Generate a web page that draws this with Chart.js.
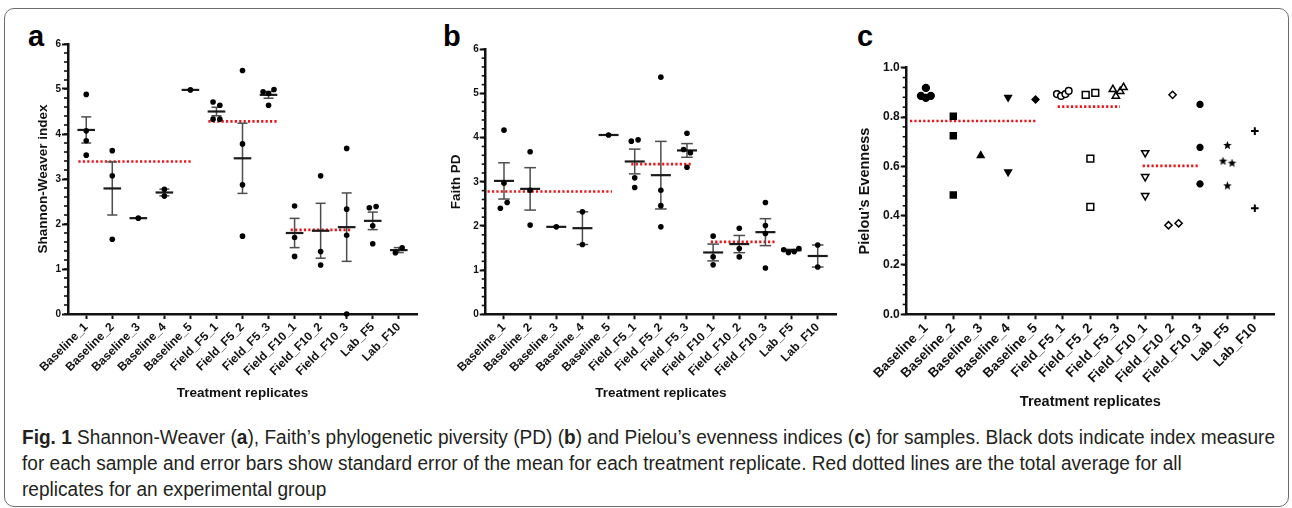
<!DOCTYPE html>
<html>
<head>
<meta charset="utf-8">
<script src="https://cdn.jsdelivr.net/npm/chart.js@4.4.1/dist/chart.umd.min.js"></script>
<style>
  body { margin: 0; background: #fff; width: 1292px; height: 508px; overflow: hidden; position: relative; font-family: "Liberation Sans", Arial, sans-serif; }
  .frame { position: absolute; left: 4px; top: 8px; width: 1283px; height: 497px; border: 1.5px solid #6d6d6d; border-radius: 10px; }
  canvas { position: absolute; }
  .lbl { position: absolute; font-weight: bold; font-size: 29px; line-height: 1; color: #000; }
  .cap { position: absolute; left: 22px; top: 424px; font-family: "Liberation Sans", Arial, sans-serif; font-size: 20px; line-height: 26px; color: #231f20; white-space: nowrap; transform-origin: 0 0; }
  .cap span { display: block; }
</style>
</head>
<body>
<div class="frame"></div>
<div class="lbl" style="left:28px;top:22px">a</div>
<div class="lbl" style="left:443px;top:22px">b</div>
<div class="lbl" style="left:857px;top:22px">c</div>
<canvas id="chartA" width="410" height="380" style="left:20px;top:30px"></canvas>
<canvas id="chartB" width="410" height="380" style="left:440px;top:30px"></canvas>
<canvas id="chartC" width="440" height="390" style="left:850px;top:30px"></canvas>
<div class="cap" id="cap">
  <span id="l1"><b>Fig. 1</b> Shannon-Weaver (<b>a</b>), Faith’s phylogenetic piversity (PD) (<b>b</b>) and Pielou’s evenness indices (<b>c</b>) for samples. Black dots indicate index measure</span>
  <span>for each sample and error bars show standard error of the mean for each treatment replicate. Red dotted lines are the total average for all</span>
  <span>replicates for an experimental group</span>
</div>
<script>
// treatment replicates
const groups = ['Baseline_1', 'Baseline_2', 'Baseline_3', 'Baseline_4', 'Baseline_5',
  'Field_F5_1', 'Field_F5_2', 'Field_F5_3', 'Field_F10_1', 'Field_F10_2', 'Field_F10_3',
  'Lab_F5', 'Lab_F10'];

// a - Shannon-Weaver index, one list per replicate
const shannonValues = [
  [4.88, 4.07, 3.85, 3.53],
  [3.63, 3.07, 1.66],
  [2.13],
  [2.77, 2.62],
  [4.98],
  [4.71, 4.64, 4.33, 4.33],
  [5.41, 3.78, 2.87, 1.73],
  [4.94, 4.90, 4.99, 4.64],
  [2.40, 1.70, 1.28],
  [3.07, 1.39, 1.09],
  [3.68, 2.33, 1.75, 0.00],
  [2.36, 2.39, 1.96, 1.56],
  [1.36, 1.47]
];
const shannonMean = [4.09, 2.79, 2.13, 2.70, 4.98, 4.50, 3.46, 4.87, 1.80, 1.85, 1.93, 2.07, 1.42];
const shannonSem = [0.29, 0.59, 0, 0.075, 0, 0.095, 0.78, 0.075, 0.325, 0.61, 0.76, 0.195, 0.055];
const shannonGroupAvg = [3.39, 4.28, 1.87];

// b - Faith PD
const faithValues = [
  [4.17, 2.97, 2.53, 2.40],
  [3.68, 2.81, 2.02],
  [1.98],
  [2.32, 1.58],
  [4.06],
  [3.92, 3.95, 3.09, 2.87],
  [5.37, 2.81, 2.46, 1.98],
  [4.10, 3.73, 3.66, 3.33],
  [1.77, 1.30, 1.12],
  [1.95, 1.49, 1.30],
  [2.53, 2.01, 1.83, 1.05],
  [1.46, 1.40, 1.42, 1.49],
  [1.57, 1.07]
];
const faithMean = [3.02, 2.84, 1.98, 1.95, 4.06, 3.46, 3.15, 3.71, 1.40, 1.59, 1.86, 1.45, 1.32];
const faithSem = [0.41, 0.48, 0, 0.37, 0, 0.28, 0.765, 0.155, 0.19, 0.195, 0.305, 0.02, 0.25];
const faithGroupAvg = [2.78, 3.40, 1.64];

// c - Pielou's evenness
const pielouValues = [
  [0.918, 0.886, 0.886, 0.878],
  [0.803, 0.724, 0.484],
  [0.644],
  [0.880, 0.577],
  [0.871],
  [0.893, 0.885, 0.893, 0.906],
  [0.890, 0.898, 0.631, 0.436],
  [0.912, 0.885, 0.904, 0.920],
  [0.655, 0.558, 0.481],
  [0.890, 0.361, 0.369],
  [0.851, 0.677, 0.529],
  [0.685, 0.621, 0.613, 0.521],
  [0.743, 0.430]
];
const pielouGroupAvg = [0.784, 0.842, 0.602];

// horizontal spread of overlapping dots (category units)
const spreadA = [[0,0,0,0],[0,0,0],[0],[0,0],[0],[-0.13,0.13,-0.13,0.13],[0,0,0,0],[-0.21,0,0.21,0],[0,0,0],[0,0,0],[0,0,0,0],[-0.13,0.13,0,0],[-0.13,0.13]];
const spreadB = [[0,0,0.12,-0.14],[0,0,0],[0],[0,0],[0],[-0.13,0.13,0,0],[0,0,0,0],[0,-0.13,0.13,0],[0,0,0],[0,0,0],[0,0,0,0],[-0.3,-0.12,0.1,0.28],[0,0]];
const spreadC = [[0,-0.18,0.18,0],[0,0,0],[0],[0,0],[0],[-0.22,-0.07,0.09,0.21],[-0.17,0.18,0,0],[-0.18,-0.07,0.09,0.21],[0,0,0],[0,-0.15,0.22],[0,0,0],[0,-0.16,0.17,0],[0,0]];
// extent of the red group-average lines
const spanA = [[-0.30, 4.05], [4.69, 7.32], [7.85, 10.17]];
const spanB = [[-0.63, 4.13], [4.87, 7.20], [7.91, 10.43]];
const spanC = [[-0.58, 4.04], [4.81, 7.08], [7.91, 10.00]];

Chart.defaults.font.family = '"Liberation Sans", Arial, sans-serif';
Chart.defaults.font.weight = 'bold';
Chart.defaults.color = '#111';

const minorTicks = {
  id: 'minorTicks',
  afterDraw(chart, args, o) {
    const y = chart.scales.y, ctx = chart.ctx;
    const n = Math.round((y.max - y.min) / o.step);
    ctx.save();
    ctx.strokeStyle = '#111';
    ctx.lineWidth = 1.6;
    for (let k = 0; k <= n; k++) {
      const p = y.getPixelForValue(y.min + k * o.step);
      ctx.beginPath();
      ctx.moveTo(y.right - o.len, p);
      ctx.lineTo(y.right, p);
      ctx.stroke();
    }
    ctx.restore();
  }
};

function dots(values, spread) {
  const out = [];
  values.forEach((vals, i) => vals.forEach((v, k) => out.push({ x: i + spread[i][k], y: v })));
  return out;
}

function redLines(avg, span) {
  const out = [];
  avg.forEach((m, g) => out.push({ x: span[g][0], y: m }, { x: span[g][1], y: m }, { x: span[g][1], y: null }));
  return out;
}

function errorSets(mean, sem, capR, meanR) {
  const stems = [], caps = [], means = [];
  mean.forEach((m, i) => {
    means.push({ x: i, y: m });
    if (sem[i] > 0) {
      stems.push({ x: i, y: m - sem[i] }, { x: i, y: m + sem[i] }, { x: i, y: null });
      caps.push({ x: i, y: m - sem[i] }, { x: i, y: m + sem[i] });
    }
  });
  return [
    { data: stems, showLine: true, borderColor: '#4d4d4d', borderWidth: 1.5, pointRadius: 0, order: 4, clip: false },
    { data: caps, pointStyle: 'line', pointRadius: capR, pointBorderColor: '#4d4d4d', pointBorderWidth: 1.5, order: 3, clip: false },
    { data: means, pointStyle: 'line', pointRadius: meanR, pointBorderColor: '#1a1a1a', pointBorderWidth: 2.2, order: 2, clip: false }
  ];
}

function makeChart(id, p) {
  new Chart(document.getElementById(id), {
    type: 'scatter',
    data: {
      datasets: [
        { data: redLines(p.avg, p.span), showLine: true, borderColor: '#e8161b', borderWidth: 2.6,
          borderDash: [2.2, 2.2], pointRadius: 0, order: 5, clip: false },
        ...p.sets
      ]
    },
    options: {
      responsive: false,
      devicePixelRatio: 1,
      animation: false,
      events: [],
      layout: { padding: p.pad },
      plugins: { legend: { display: false }, tooltip: { enabled: false }, minorTicks: p.minor },
      scales: {
        x: {
          type: 'linear', position: 'bottom', min: -0.7, max: 12.7,
          afterBuildTicks: s => { s.ticks = groups.map((g, i) => ({ value: i })); },
          afterFit: s => { s.height = p.xh; },
          ticks: { callback: v => groups[v], minRotation: 45, maxRotation: 45, autoSkip: false,
                   padding: 1, color: '#111', font: { size: p.xfs, weight: 'bold' } },
          grid: { drawOnChartArea: false, drawTicks: true, tickLength: 5, tickWidth: 2, tickColor: '#111' },
          border: { display: true, color: '#111', width: 2.5 },
          title: { display: true, text: 'Treatment replicates', color: '#111',
                   font: { size: p.tfs, weight: 'bold' }, padding: { top: 0, bottom: p.xtp } }
        },
        y: {
          type: 'linear', min: 0, max: p.ymax,
          afterFit: s => { s.width = p.yw; },
          ticks: { stepSize: p.ystep, callback: p.yfmt, padding: 1, color: '#111',
                   font: { size: p.yfs, weight: 'bold' } },
          grid: { drawOnChartArea: false, drawTicks: true, tickLength: 6, tickWidth: 2, tickColor: '#111' },
          border: { display: true, color: '#111', width: 2.5 },
          title: { display: true, text: p.ytitle, color: '#111',
                   font: { size: p.tfs, weight: 'bold' }, padding: { top: p.ytp, bottom: 0 } }
        }
      }
    },
    plugins: [minorTicks]
  });
}

const dotStyle = { pointStyle: 'circle', pointRadius: 2.8, pointBackgroundColor: '#000', pointBorderWidth: 0, order: 0, clip: false };

makeChart('chartA', {
  avg: shannonGroupAvg, span: spanA,
  sets: [...errorSets(shannonMean, shannonSem, 5, 8.8), { data: dots(shannonValues, spreadA), ...dotStyle }],
  pad: { left: 0, top: 14, right: 13, bottom: 0 }, yw: 48, xh: 96,
  ymax: 6, ystep: 1, yfmt: v => v, minor: { step: 0.2, len: 4 },
  xfs: 12, yfs: 10, tfs: 13.5, xtp: 8.6, ytp: 14.9, ytitle: 'Shannon-Weaver index'
});

makeChart('chartB', {
  avg: faithGroupAvg, span: spanB,
  sets: [...errorSets(faithMean, faithSem, 5.8, 10), { data: dots(faithValues, spreadB), ...dotStyle }],
  pad: { left: 0, top: 19.3, right: 14, bottom: 0 }, yw: 45.7, xh: 95.7,
  ymax: 6, ystep: 1, yfmt: v => v, minor: { step: 0.2, len: 4 },
  xfs: 12, yfs: 10, tfs: 13.5, xtp: 8.9, ytp: 8.6, ytitle: 'Faith PD'
});

// five-pointed star marker for Lab_F5
function starMarker(size) {
  const c = document.createElement('canvas');
  c.width = c.height = size;
  const g = c.getContext('2d');
  g.beginPath();
  for (let k = 0; k < 10; k++) {
    const r = k % 2 ? size * 0.22 : size / 2;
    const a = -Math.PI / 2 + k * Math.PI / 5;
    g.lineTo(size / 2 + r * Math.cos(a), size / 2 + r * Math.sin(a));
  }
  g.closePath();
  g.fillStyle = '#000';
  g.fill();
  return c;
}

const symbols = [
  { pointStyle: 'circle', pointRadius: 3.4, fill: true },
  { pointStyle: 'rect', pointRadius: 4.2, fill: true },
  { pointStyle: 'triangle', pointRadius: 3.8, fill: true },
  { pointStyle: 'triangle', pointRadius: 3.8, fill: true, rotation: 180 },
  { pointStyle: 'rectRot', pointRadius: 3.4, fill: true },
  { pointStyle: 'circle', pointRadius: 3.3, fill: false },
  { pointStyle: 'rect', pointRadius: 4.8, fill: false },
  { pointStyle: 'triangle', pointRadius: 4.2, fill: false },
  { pointStyle: 'triangle', pointRadius: 4.2, fill: false, rotation: 180 },
  { pointStyle: 'rectRot', pointRadius: 3.6, fill: false },
  { pointStyle: 'star', pointRadius: 3.6, fill: true, bw: 2.4 },
  { pointStyle: starMarker(9), pointRadius: 4.5, fill: true },
  { pointStyle: 'cross', pointRadius: 3.8, fill: true, bw: 2 }
];

const pielouSets = pielouValues.map((vals, i) => ({
  data: vals.map((v, k) => ({ x: i + spreadC[i][k], y: v })),
  pointStyle: symbols[i].pointStyle,
  pointRadius: symbols[i].pointRadius,
  pointRotation: symbols[i].rotation || 0,
  pointBackgroundColor: symbols[i].fill ? '#000' : '#fff',
  pointBorderColor: '#000',
  pointBorderWidth: symbols[i].bw || 1.5,
  order: 0, clip: false
}));

makeChart('chartC', {
  avg: pielouGroupAvg, span: spanC,
  sets: pielouSets,
  pad: { left: 0, top: 37.7, right: 16, bottom: 0 }, yw: 56.7, xh: 105.7,
  ymax: 1, ystep: 0.2, yfmt: v => v.toFixed(1), minor: { step: 0.04, len: 4 },
  xfs: 13.5, yfs: 12, tfs: 14.5, xtp: 9.6, ytp: 6.3, ytitle: 'Pielou’s Evenness'
});

// caption set in a narrowed face: squeeze the first line to the reference width
const cap = document.getElementById('cap');
const w1 = document.getElementById('l1').getBoundingClientRect().width;
cap.style.transform = 'scaleX(' + (1253 / w1).toFixed(4) + ')';
</script>
</body>
</html>
